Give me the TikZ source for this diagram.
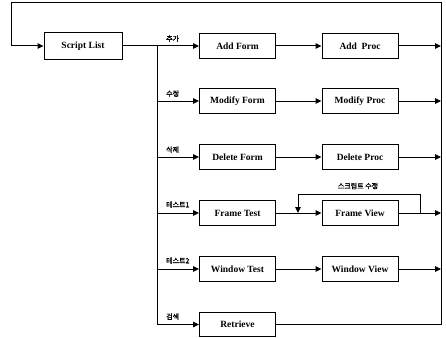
\documentclass[tikz,border=0pt]{standalone}
\usepackage{fontspec}
\setmainfont{Liberation Serif}
\newfontfamily\kr[FakeBold=1.6]{Noto Sans CJK KR}
\usetikzlibrary{arrows.meta}
\begin{document}
\begin{tikzpicture}[x=1pt,y=-1pt,
  box/.style={draw, line width=1pt, minimum width=76pt, minimum height=25pt, inner sep=0pt, font=\bfseries\fontsize{9.5}{11}\selectfont},
  arr/.style={-{Triangle[length=6pt,width=5.5pt]}, line width=1pt},
  ln/.style={line width=1pt},
  lab/.style={font=\kr\fontsize{7}{8}\selectfont, anchor=south west, inner sep=0pt}]
\useasboundingbox (0,0) rectangle (446,337);
% nodes
\node[box, minimum width=78pt, minimum height=26pt] (SL) at (83,46) {Script List};
\node[box] (AF) at (237.5,46) {Add Form};
\node[box] (AP) at (360,46) {Add~ Proc};
\node[box] (MF) at (237.5,101) {Modify Form};
\node[box] (MP) at (360,101) {Modify Proc};
\node[box] (DF) at (237.5,157) {Delete Form};
\node[box] (DP) at (360,157) {Delete Proc};
\node[box] (FT) at (237.5,213) {Frame Test};
\node[box] (FV) at (360,213) {Frame View};
\node[box] (WT) at (237.5,269) {Window Test};
\node[box] (WV) at (360,269) {Window View};
\node[box, minimum height=24pt] (RT) at (237.5,324.5) {Retrieve};
% coordinates
\coordinate (b1) at (157,46);
\coordinate (b2) at (157,101);
\coordinate (b3) at (157,157);
\coordinate (b4) at (157,213);
\coordinate (b5) at (157,269);
\coordinate (b6) at (157,324.5);
\coordinate (r1) at (441,46);
\coordinate (r2) at (441,101);
\coordinate (r3) at (441,157);
\coordinate (r4) at (441,213);
\coordinate (r5) at (441,269);
\coordinate (r6) at (441,324.5);
\coordinate (tr) at (441,3);
\coordinate (tl) at (11,3);
\coordinate (lk) at (11,46);
\coordinate (lpR) at (420,213);
\coordinate (lpT) at (298,194);
\coordinate (lpL) at (298,213);
% return loop
\draw[arr] (RT.east) -- (r6) -- (tr) -- (tl) -- (lk) -- (SL.west);
% branch
\draw[ln] (b1) -- (b6);
\draw[arr] (SL.east) -- (AF.west);
\draw[arr] (b2) -- (MF.west);
\draw[arr] (b3) -- (DF.west);
\draw[arr] (b4) -- (FT.west);
\draw[arr] (b5) -- (WT.west);
\draw[arr] (b6) -- (RT.west);
% middle
\draw[arr] (AF.east) -- (AP.west);
\draw[arr] (MF.east) -- (MP.west);
\draw[arr] (DF.east) -- (DP.west);
\draw[arr] (FT.east) -- (FV.west);
\draw[arr] (WT.east) -- (WV.west);
% right
\draw[arr] (AP.east) -- (r1);
\draw[arr] (MP.east) -- (r2);
\draw[arr] (DP.east) -- (r3);
\draw[arr] (FV.east) -- (r4);
\draw[arr] (WV.east) -- (r5);
% feedback loop
\draw[arr] (lpR) |- (lpT) -- (lpL);
% labels
\node[lab] at (166,42) {추가};
\node[lab] at (166,97) {수정};
\node[lab] at (166,153) {삭제};
\node[lab] at (166,208) {테스트1};
\node[lab] at (166,264) {테스트2};
\node[lab] at (166,320) {검색};
\node[font=\kr\fontsize{7}{8}\selectfont, inner sep=0pt] (lbl) at (358,186) {스크립트 수정};
\end{tikzpicture}
\end{document}
